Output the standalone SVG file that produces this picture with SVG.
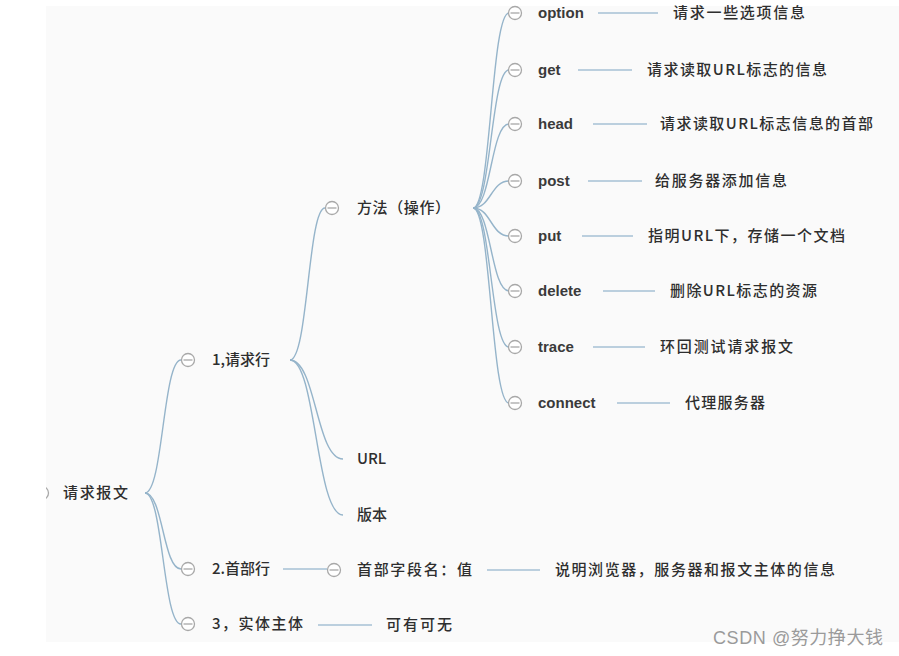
<svg xmlns="http://www.w3.org/2000/svg" width="899" height="656" viewBox="0 0 899 656">
<defs>
<style>
.t{font-family:"Liberation Sans","Noto Sans CJK SC",sans-serif;font-size:15px;fill:#333;}
.en{font-weight:bold;fill:#3a3a3a;}
.cn{font-family:"Noto Sans CJK SC","Liberation Sans",sans-serif;font-size:15px;fill:#2e2e2e;font-weight:500;}
.c{fill:none;stroke:#95b4ca;stroke-width:1.4;}
.h{fill:none;stroke:#a6c1d4;stroke-width:1.4;}
.k{fill:#fff;stroke:#a8a8a8;stroke-width:1.3;}
.m{stroke:#a8a8a8;stroke-width:1.3;}
.wm{font-family:"Liberation Sans","Noto Sans CJK SC",sans-serif;font-size:18px;fill:#9a9a9a;}
</style>
<clipPath id="bgclip"><rect x="46" y="6" width="853" height="636"/></clipPath>
<g id="col">
<circle class="k" cx="0" cy="0" r="6.5"/>
<line class="m" x1="-4.5" y1="0" x2="4.5" y2="0"/>
</g>
</defs>
<rect x="0" y="0" width="899" height="656" fill="#ffffff"/>
<rect x="46" y="6" width="853" height="636" fill="#fafafa"/>

<g id="connectors">
<path class="c" d="M145,493 C163,493 163,360 181,360"/>
<path class="c" d="M145,493 C163,493 163,569 181,569"/>
<path class="c" d="M145,493 C163,493 163,624 181,624"/>
<path class="c" d="M290,360 C308,360 308,208 325,208"/>
<path class="c" d="M290,360 C316,360 316,459 343,459"/>
<path class="c" d="M290,360 C316,360 316,515 343,515"/>
<path class="c" d="M473,208 C491,208 491,13 509,13"/>
<path class="c" d="M473,208 C491,208 491,70 509,70"/>
<path class="c" d="M473,208 C491,208 491,124 509,124"/>
<path class="c" d="M473,208 C491,208 491,181 509,181"/>
<path class="c" d="M473,208 C491,208 491,236 509,236"/>
<path class="c" d="M473,208 C491,208 491,291 509,291"/>
<path class="c" d="M473,208 C491,208 491,347 509,347"/>
<path class="c" d="M473,208 C491,208 491,403 509,403"/>
<line class="h" x1="598" y1="13" x2="658" y2="13"/>
<line class="h" x1="578" y1="70" x2="632" y2="70"/>
<line class="h" x1="593" y1="124" x2="647" y2="124"/>
<line class="h" x1="588" y1="181" x2="642" y2="181"/>
<line class="h" x1="582" y1="236" x2="633" y2="236"/>
<line class="h" x1="603" y1="291" x2="655" y2="291"/>
<line class="h" x1="593" y1="347" x2="645" y2="347"/>
<line class="h" x1="617" y1="403" x2="670" y2="403"/>
<line class="h" x1="283" y1="569" x2="327" y2="569"/>
<line class="h" x1="487" y1="570" x2="540" y2="570"/>
<line class="h" x1="318" y1="625" x2="372" y2="625"/>
</g>

<g id="root">
<g clip-path="url(#bgclip)"><circle class="k" cx="42" cy="493" r="6.5"/></g>
<text class="cn" x="63" y="498" textLength="65">请求报文</text>
</g>

<g id="req-line">
<use href="#col" x="188" y="360"/>
<text class="cn" x="212" y="365">1,请求行</text>
</g>
<g id="header-line">
<use href="#col" x="188" y="569"/>
<text class="cn" x="212" y="574">2.首部行</text>
</g>
<g id="body">
<use href="#col" x="188" y="624"/>
<text class="cn" x="212" y="629" textLength="91">3，实体主体</text>
</g>

<g id="method">
<use href="#col" x="332" y="208"/>
<text class="cn" x="357" y="213" textLength="93">方法（操作）</text>
</g>
<g id="url"><text class="cn" x="357" y="464">URL</text></g>
<g id="version"><text class="cn" x="357" y="520">版本</text></g>

<g id="header-field">
<use href="#col" x="334" y="570"/>
<text class="cn" x="357" y="575" textLength="115">首部字段名：值</text>
</g>
<g id="header-desc"><text class="cn" x="555" y="575" textLength="280">说明浏览器，服务器和报文主体的信息</text></g>
<g id="body-desc"><text class="cn" x="386" y="630" textLength="66">可有可无</text></g>

<g id="option">
<use href="#col" x="515" y="13"/>
<text class="t en" x="538" y="18">option</text>
<text class="cn" x="673" y="18" textLength="132">请求一些选项信息</text>
</g>
<g id="get">
<use href="#col" x="515" y="70"/>
<text class="t en" x="538" y="75">get</text>
<text class="cn" x="647" y="75" textLength="180">请求读取URL标志的信息</text>
</g>
<g id="head">
<use href="#col" x="515" y="124"/>
<text class="t en" x="538" y="129">head</text>
<text class="cn" x="660" y="129" textLength="213">请求读取URL标志信息的首部</text>
</g>
<g id="post">
<use href="#col" x="515" y="181"/>
<text class="t en" x="538" y="186">post</text>
<text class="cn" x="655" y="186" textLength="132">给服务器添加信息</text>
</g>
<g id="put">
<use href="#col" x="515" y="236"/>
<text class="t en" x="538" y="241">put</text>
<text class="cn" x="648" y="241" textLength="197">指明URL下，存储一个文档</text>
</g>
<g id="delete">
<use href="#col" x="515" y="291"/>
<text class="t en" x="538" y="296">delete</text>
<text class="cn" x="670" y="296" textLength="147">删除URL标志的资源</text>
</g>
<g id="trace">
<use href="#col" x="515" y="347"/>
<text class="t en" x="538" y="352">trace</text>
<text class="cn" x="660" y="352" textLength="133">环回测试请求报文</text>
</g>
<g id="connect">
<use href="#col" x="515" y="403"/>
<text class="t en" x="538" y="408">connect</text>
<text class="cn" x="685" y="408" textLength="80">代理服务器</text>
</g>

<text class="wm" x="713" y="644" textLength="170">CSDN @努力挣大钱</text>
</svg>
